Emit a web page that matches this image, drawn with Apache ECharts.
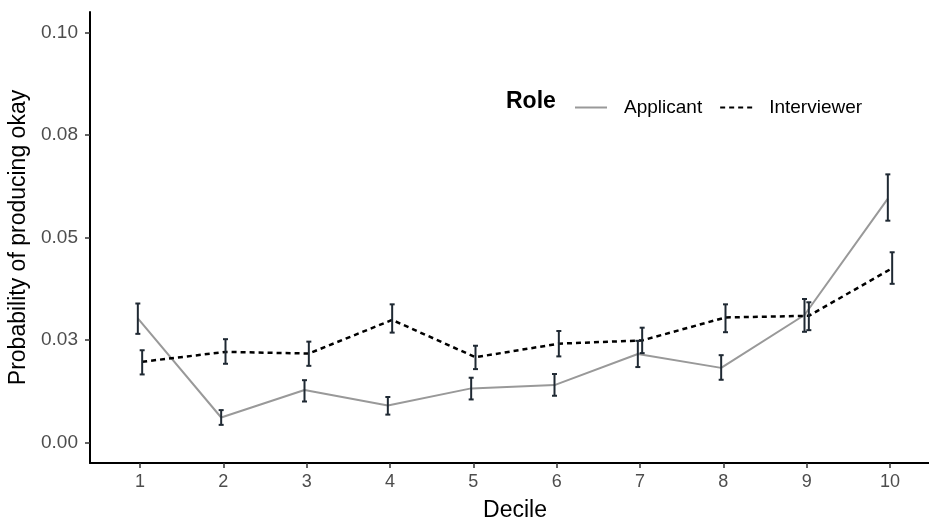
<!DOCTYPE html>
<html>
<head>
<meta charset="utf-8">
<script src="https://cdn.jsdelivr.net/npm/echarts@6/dist/echarts.min.js"></script>
<style>html,body{margin:0;padding:0;background:#fff}#c{width:929px;height:518px}</style>
</head>
<body>
<div id="c"></div>
<script>
const deciles = [1,2,3,4,5,6,7,8,9,10];
const applicantMean = [0.0303,0.0061,0.0128,0.0090,0.0132,0.0140,0.0216,0.0182,0.0311,0.0595];
const applicantLow  = [0.0265,0.0043,0.0100,0.0068,0.0105,0.0114,0.0184,0.0153,0.0270,0.0541];
const applicantHigh = [0.0339,0.0079,0.0152,0.0111,0.0158,0.0167,0.0248,0.0213,0.0350,0.0654];
const interviewerMean = [0.0197,0.0221,0.0217,0.0299,0.0208,0.0241,0.0249,0.0305,0.0309,0.0425];
const interviewerLow  = [0.0166,0.0192,0.0187,0.0268,0.0179,0.0210,0.0218,0.0269,0.0274,0.0387];
const interviewerHigh = [0.0225,0.0252,0.0246,0.0337,0.0236,0.0272,0.0280,0.0337,0.0342,0.0464];
const yTickValues = [0,0.025,0.05,0.075,0.1];
const yTickLabels = ['0.00','0.03','0.05','0.08','0.10'];
const seriesNames = ['Applicant','Interviewer'];

const dodge = 0.026;
const FONT = '"Liberation Sans", Arial, Helvetica, sans-serif';

function lineData(means, off){ return deciles.map((d,i)=>[d+off, means[i]]); }
function errData(lo, hi, off){ return deciles.map((d,i)=>[d+off, lo[i], hi[i]]); }

function renderErr(params, api){
  const x = api.value(0);
  const p1 = api.coord([x, api.value(1)]);
  const p2 = api.coord([x, api.value(2)]);
  const cw = 2.5;
  const style = {stroke:'#1f2933', lineWidth:2, fill:null};
  return {type:'group', children:[
    {type:'line', shape:{x1:p1[0],y1:p1[1],x2:p2[0],y2:p2[1]}, style:style},
    {type:'line', shape:{x1:p1[0]-cw,y1:p1[1],x2:p1[0]+cw,y2:p1[1]}, style:style},
    {type:'line', shape:{x1:p2[0]-cw,y1:p2[1],x2:p2[0]+cw,y2:p2[1]}, style:style}
  ]};
}

const chart = echarts.init(document.getElementById('c'));
chart.setOption({
  animation:false,
  backgroundColor:'#ffffff',
  grid:{left:90, right:-11, top:12, bottom:55, containLabel:false, outerBoundsMode:'none'},
  xAxis:{
    type:'value', min:0.4, max:10.6,
    name:'Decile', nameLocation:'middle', nameGap:36,
    nameTextStyle:{fontFamily:FONT, fontSize:23, color:'#000'},
    axisLine:{show:true, onZero:false, lineStyle:{color:'#000', width:2}},
    axisTick:{show:true, customValues:deciles, length:5, lineStyle:{color:'#333', width:1.5}},
    axisLabel:{show:true, customValues:deciles, fontFamily:FONT, fontSize:18, color:'#4d4d4d', margin:10},
    splitLine:{show:false}
  },
  yAxis:{
    type:'value', min:-0.005, max:0.105,
    name:'Probability of producing okay', nameLocation:'middle', nameGap:60,
    nameTextStyle:{fontFamily:FONT, fontSize:23, color:'#000'},
    axisLine:{show:true, onZero:false, lineStyle:{color:'#000', width:2}},
    axisTick:{show:true, customValues:yTickValues, length:5, lineStyle:{color:'#333', width:1.5}},
    axisLabel:{show:true, customValues:yTickValues, fontFamily:FONT, fontSize:19, color:'#4d4d4d', margin:12,
      formatter:function(v){ const i = yTickValues.findIndex(t=>Math.abs(t-v)<1e-9); return i>=0 ? yTickLabels[i] : ''; }},
    splitLine:{show:false}
  },
  legend:{
    data:seriesNames, left:569, top:93, orient:'horizontal',
    itemWidth:32, itemHeight:18, itemGap:17,
    itemStyle:{opacity:0},
    textStyle:{fontFamily:FONT, fontSize:19, color:'#000', padding:[0,0,0,12]}
  },
  graphic:[{type:'text', left:506, top:90, style:{text:'Role', font:'bold 23px '+FONT, fill:'#000'}}],
  series:[
    {name:seriesNames[0], type:'line', data:lineData(applicantMean,-dodge), symbol:'none',
      lineStyle:{color:'#999999', width:2}, itemStyle:{color:'#999999'}, z:2},
    {name:seriesNames[1], type:'line', data:lineData(interviewerMean,dodge), symbol:'none',
      lineStyle:{color:'#000000', width:2.5, type:[5,4]}, itemStyle:{color:'#000000'}, z:2},
    {name:'errA', type:'custom', renderItem:renderErr, data:errData(applicantLow,applicantHigh,-dodge), z:3, silent:true},
    {name:'errI', type:'custom', renderItem:renderErr, data:errData(interviewerLow,interviewerHigh,dodge), z:3, silent:true}
  ]
});
</script>
</body>
</html>
